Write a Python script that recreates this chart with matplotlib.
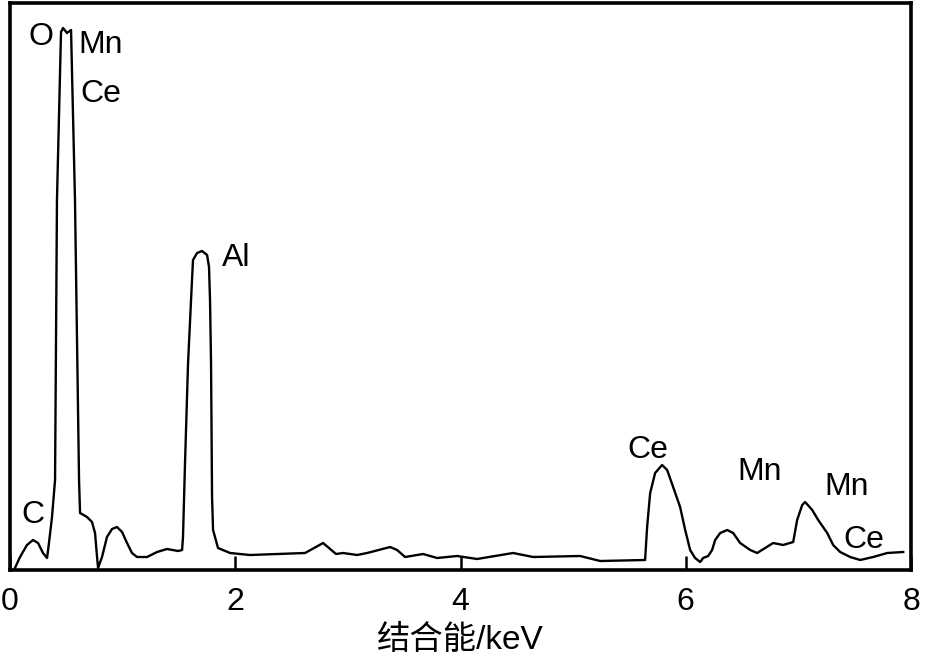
import matplotlib
matplotlib.use('Agg')
import matplotlib.pyplot as plt

plt.rcParams['font.family'] = ['Liberation Sans', 'Noto Sans CJK SC', 'DejaVu Sans']

# EDS spectrum: energy (keV) and intensity (a.u.)
energy = [0.044, 0.089, 0.151, 0.204, 0.249, 0.293, 0.329, 0.346, 0.373, 0.400,
          0.417, 0.453, 0.471, 0.506, 0.542, 0.577, 0.613, 0.622, 0.684, 0.728,
          0.755, 0.773, 0.782, 0.817, 0.861, 0.906, 0.950, 0.995, 1.039, 1.083,
          1.128, 1.217, 1.306, 1.394, 1.492, 1.528, 1.536, 1.554, 1.581, 1.616,
          1.625, 1.661, 1.705, 1.750, 1.767, 1.776, 1.785, 1.794, 1.803, 1.847,
          1.954, 2.131, 2.620, 2.780, 2.895, 2.957, 3.082, 3.171, 3.375, 3.437,
          3.508, 3.668, 3.792, 3.970, 4.147, 4.467, 4.645, 5.062, 5.240, 5.639,
          5.657, 5.684, 5.728, 5.790, 5.835, 5.888, 5.950, 5.995, 6.039, 6.083,
          6.128, 6.154, 6.199, 6.234, 6.261, 6.306, 6.368, 6.421, 6.483, 6.572,
          6.634, 6.705, 6.776, 6.865, 6.954, 6.989, 7.034, 7.060, 7.123, 7.176,
          7.256, 7.309, 7.371, 7.460, 7.549, 7.664, 7.789, 7.931]
intensity = [2, 13, 25, 30, 27, 17, 12, 27, 53, 90,
             370, 538, 542, 537, 540, 370, 90, 57, 53, 48,
             37, 13, 2, 13, 33, 41, 43, 38, 27, 17,
             13, 13, 18, 21, 19, 20, 33, 107, 207, 290,
             310, 317, 319, 315, 303, 270, 207, 73, 40, 22,
             17, 15, 17, 27, 16, 17, 15, 17, 23, 20,
             13, 16, 12, 14, 11, 17, 13, 14, 9, 10,
             43, 77, 97, 105, 100, 83, 63, 40, 20, 12,
             8, 12, 14, 20, 30, 37, 40, 37, 27, 20,
             17, 22, 27, 25, 28, 50, 65, 68, 60, 50,
             37, 25, 18, 13, 10, 13, 17, 18]

# peak labels: text, energy, intensity (baseline)
peak_names = ['O', 'Mn', 'Ce', 'Al', 'C', 'Ce', 'Mn', 'Mn', 'Ce']
peak_e = [0.276, 0.809, 0.809, 1.884, 0.098, 5.484, 6.462, 7.227, 7.396]
peak_i = [525, 517, 468, 304, 47, 112, 90, 75, 22]
peak_ha = ['center', 'center', 'center', 'left', 'left', 'left', 'left', 'left', 'left']

xticks = [0, 2, 4, 6, 8]

fig = plt.figure(figsize=(9.27, 6.58), dpi=100)
ax = fig.add_axes([10 / 927, 88 / 658, 901 / 927, 567 / 658])

ax.plot(energy, intensity, color='black', lw=1.7, solid_joinstyle='round')

for name, e, i, ha in zip(peak_names, peak_e, peak_i, peak_ha):
    ax.text(e, i, name, fontsize=23, ha=ha, va='baseline')

ax.set_xlim(0, 8)
ax.set_ylim(0, 567)
ax.set_xticks(xticks)
ax.set_xticklabels([str(t) for t in xticks])
ax.set_yticks([])
ax.tick_params(axis='x', direction='in', length=10, width=1.8, pad=12, labelsize=23)
for sp in ax.spines.values():
    sp.set_linewidth(2.6)
ax.set_xlabel('结合能/keV', fontsize=24, labelpad=6)

fig.savefig('out.png', dpi=100)
